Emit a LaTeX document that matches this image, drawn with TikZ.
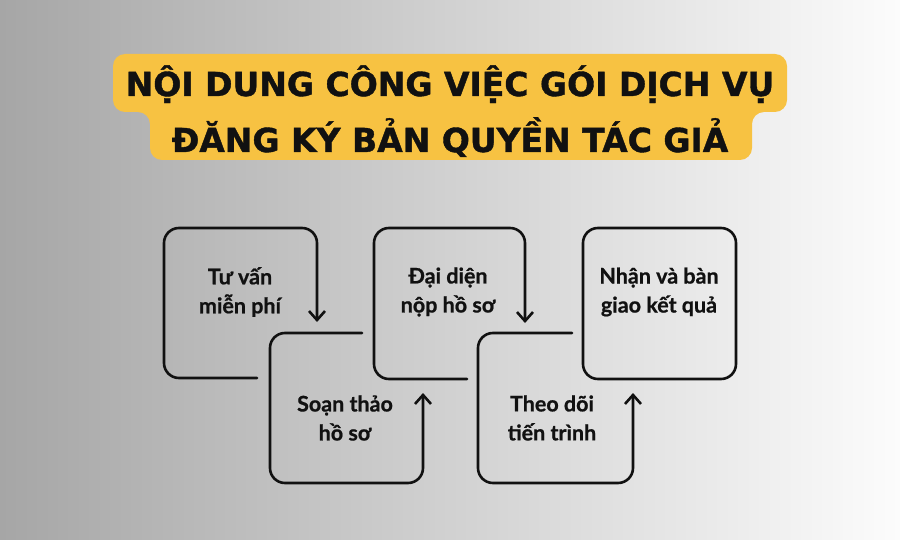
\documentclass[tikz,border=0pt]{standalone}
\usepackage{fontspec}
\setmainfont{Lato}[BoldFeatures={FakeBold=0.8}]
\newfontfamily\titlefont{DejaVu Sans}[BoldFeatures={FakeBold=1.2}]
\usetikzlibrary{arrows.meta}
\definecolor{bgleft}{RGB}{166,166,166}
\definecolor{bgright}{RGB}{252,252,252}
\definecolor{titleyellow}{RGB}{247,194,66}
\definecolor{ink}{RGB}{17,17,17}
\tikzset{
  sketch/.style={draw=ink, line width=2.6pt, rounded corners=15pt, line cap=round, line join=round},
  sketcharrow/.style={sketch, -{Straight Barb[length=9pt,width=16pt]}},
  steptext/.style={text=ink, align=center, font=\bfseries\fontsize{21.5}{29}\selectfont},
  titletext/.style={text=ink, anchor=base, font=\titlefont\bfseries\fontsize{33}{40}\selectfont}
}
\begin{document}
\begin{tikzpicture}[x=1pt, y=-1pt]
    \useasboundingbox (0,0) rectangle (900,540);
    \shade[left color=bgleft, right color=bgright] (0,0) rectangle (900,540);
    % title
    \fill[titleyellow, rounded corners=12pt] (113,54) -- (787,54) -- (787,112) -- (752,112)
      -- (752,160) -- (150,160) -- (150,112) -- (113,112) -- cycle;
    \node[titletext] (title1) at (450,96) {NỘI DUNG CÔNG VIỆC GÓI DỊCH VỤ};
    \node[titletext] (title2) at (450,152) {ĐĂNG KÝ BẢN QUYỀN TÁC GIẢ};
    % boxes
    \draw[sketcharrow] (257,378) -- (164,378) -- (164,228) -- (317,228) -- (317,322);
    \draw[sketcharrow] (362,333) -- (270,333) -- (270,483) -- (423,483) -- (423,393);
    \draw[sketcharrow] (467,379) -- (374,379) -- (374,228) -- (525,228) -- (525,323);
    \draw[sketcharrow] (572,333) -- (478,333) -- (478,483) -- (633,483) -- (633,393);
    \draw[sketch] (583,228) rectangle (736,379);
    % labels
    \node[steptext] (tuvan) at (240,292) {Tư vấn\\miễn phí};
    \node[steptext] (soanthao) at (345,418) {Soạn thảo\\hồ sơ};
    \node[steptext] (daidien) at (448,292) {Đại diện\\nộp hồ sơ};
    \node[steptext] (theodoi) at (552,418) {Theo dõi\\tiến trình};
    \node[steptext] (nhan) at (659,292) {Nhận và bàn\\giao kết quả};
  \end{tikzpicture}
\end{document}
